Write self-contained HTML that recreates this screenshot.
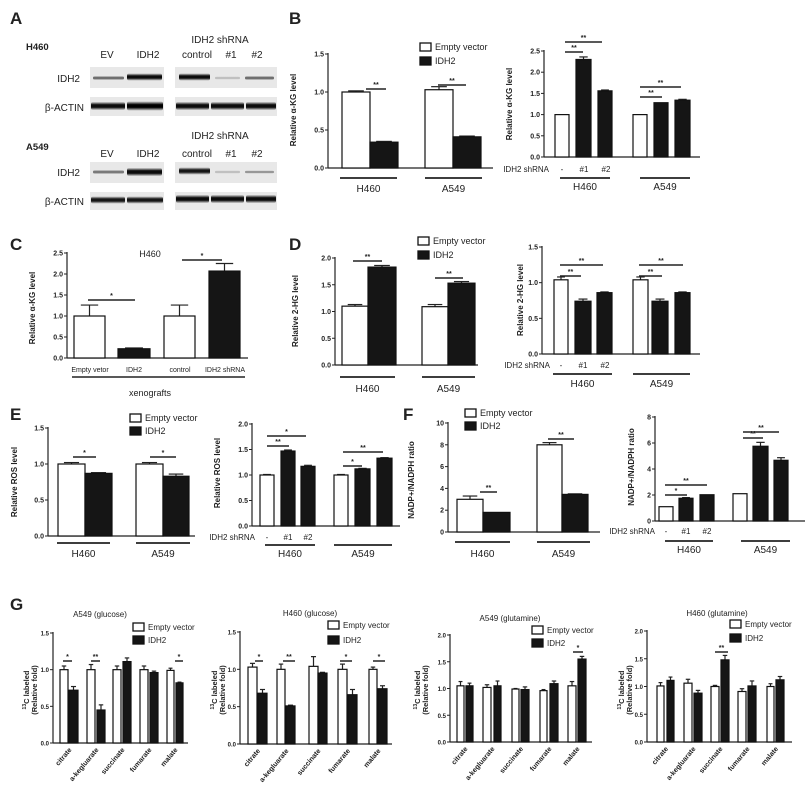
<!DOCTYPE html>
<html><head><meta charset="utf-8">
<style>
html,body{margin:0;padding:0;background:#fff;}
svg{display:block;font-family:"Liberation Sans",Arial,sans-serif;}
</style></head>
<body>
<svg id="s" width="805" height="799" viewBox="0 0 805 799" xmlns="http://www.w3.org/2000/svg">
<defs>
<linearGradient id="bg" x1="0" y1="0" x2="0" y2="1">
<stop offset="0" stop-color="#000" stop-opacity="0.1"/>
<stop offset="0.35" stop-color="#000" stop-opacity="1"/>
<stop offset="0.65" stop-color="#000" stop-opacity="1"/>
<stop offset="1" stop-color="#000" stop-opacity="0.1"/>
</linearGradient>
</defs>
<g id="root"></g>
</svg>
<script>
var o='';
function T(x,y,t,sz,opt){opt=opt||{};o+='<text x="'+x+'" y="'+y+'" font-size="'+sz+'"'+(opt.a?' text-anchor="'+opt.a+'"':'')+(opt.b?' font-weight="bold"':'')+(opt.r?' transform="rotate('+opt.r+' '+x+' '+y+')"':'')+' fill="#222">'+t+'</text>';}
function L(x1,y1,x2,y2,w){o+='<line x1="'+x1+'" y1="'+y1+'" x2="'+x2+'" y2="'+y2+'" stroke="#222" stroke-width="'+(w||1.2)+'"/>';}
function R(x,y,w,h,f,sw){o+='<rect x="'+x+'" y="'+y+'" width="'+w+'" height="'+h+'" fill="'+f+'" stroke="#111" stroke-width="'+(sw||1.2)+'"/>';}
function chart(c){
  var sc=(c.y0-c.yT)/c.max;
  var fs=c.fs||7;
  L(c.ax,c.yT-1,c.ax,c.y0);
  L(c.ax,c.y0,c.xEnd,c.y0);
  for(var v=0;v<=c.max+1e-9;v+=c.step){
    var y=c.y0-v*sc; L(c.ax-3,y,c.ax,y,1);
    T(c.ax-4,y+2.5,v.toFixed(c.dec),fs,{a:'end',b:1});
  }
  c.bars.forEach(function(b){
    var top=c.y0-b[2]*sc, cx=(b[0]+b[1])/2, e=(b[4]||0)*sc, cw=(b[1]-b[0])*0.28;
    if(e>0.5){L(cx,top,cx,top-e,1.2);L(cx-cw,top-e,cx+cw,top-e,1.2);}
    R(b[0],top,b[1]-b[0],b[2]*sc,b[3]?'#151515':'#fff');
  });
  (c.sig||[]).forEach(function(s){L(s[0],s[2],s[1],s[2],1.5);T((s[0]+s[1])/2,s[2]-2,s[3],7,{a:'middle',b:1});});
  if(c.yl){T(c.ylx,c.yly,c.yl,c.ylfs||8,{a:'middle',b:1,r:-90});}
}
function grp(x1,x2,y,t,ty,fs){L(x1,y,x2,y,1.8);T((x1+x2)/2,ty,t,fs||10,{a:'middle'});}
function leg(x,y1,y2,fs){R(x,y1-4,11,8,'#fff',1.3);R(x,y2-4,11,8,'#151515',1.3);T(x+15,y1+3,'Empty vector',fs||9);T(x+15,y2+3,'IDH2',fs||9);}
function shr(xe,y,xs,fs){T(xe,y,'IDH2 shRNA',fs||8,{a:'end'});T(xs[0],y,'-',fs||8,{a:'middle'});T(xs[1],y,'#1',fs||8,{a:'middle'});T(xs[2],y,'#2',fs||8,{a:'middle'});}
function big(x,y,t){T(x,y,t,17,{b:1});}

/* ---------- A : blots ---------- */
big(10,24,'A');
T(26,50,'H460',9.5,{b:1});T(107,58,'EV',10,{a:'middle'});T(148,58,'IDH2',10,{a:'middle'});
T(220,43,'IDH2 shRNA',10,{a:'middle'});T(197,58,'control',10,{a:'middle'});T(231,58,'#1',10,{a:'middle'});T(257,58,'#2',10,{a:'middle'});
T(80,82,'IDH2',10,{a:'end'});T(84,111,'β-ACTIN',10,{a:'end'});
T(26,150,'A549',9.5,{b:1});T(107,157,'EV',10,{a:'middle'});T(148,157,'IDH2',10,{a:'middle'});
T(220,139,'IDH2 shRNA',10,{a:'middle'});T(197,157,'control',10,{a:'middle'});T(231,157,'#1',10,{a:'middle'});T(257,157,'#2',10,{a:'middle'});
T(80,176,'IDH2',10,{a:'end'});T(84,205,'β-ACTIN',10,{a:'end'});
function blot(x,y,w,h,bands){o+='<rect x="'+x+'" y="'+y+'" width="'+w+'" height="'+h+'" fill="#e8e8e8"/>';
 bands.forEach(function(b){o+='<rect x="'+b[0]+'" y="'+(b[2]-b[3]/2)+'" width="'+(b[1]-b[0])+'" height="'+b[3]+'" rx="2" fill="url(#bg)" opacity="'+b[4]+'"/>';});}
blot(90,67,74,21,[[93,124,78,4,0.55],[127,162,77,7,0.95]]);
blot(175,67,102,21,[[179,210,77,7,0.95],[215,240,78,3,0.2],[245,274,78,4,0.55]]);
blot(90,97,74,19,[[91,125,106,8,0.95],[127,163,106,9,1]]);
blot(175,97,102,19,[[176,209,106,8,0.95],[211,244,106,8,0.95],[246,276,106,8,0.95]]);
blot(90,162,74,21,[[93,124,172,4,0.5],[127,162,172,8,0.95]]);
blot(175,162,102,21,[[179,210,171,7,0.9],[215,240,172,3,0.2],[245,274,172,3,0.4]]);
blot(90,192,74,18,[[91,125,200,7,0.9],[127,163,200,7,0.9]]);
blot(175,192,102,18,[[176,209,199,8,0.95],[211,244,199,8,0.95],[246,276,199,8,0.95]]);

/* ---------- B ---------- */
big(289,24,'B');
chart({ax:328,y0:168,yT:54,max:1.5,step:0.5,dec:1,xEnd:493,
 bars:[[342,370,1.0,0,0.015],[370,398,0.34,1,0.01],[425,453,1.03,0,0.04],[453,481,0.41,1,0.01]],
 sig:[[366,386,89,'**'],[438,466,85,'**']],yl:'Relative α-KG level',ylx:296,yly:110});
grp(340,397,178,'H460',192);grp(425,482,178,'A549',192);
leg(420,47,61);
chart({ax:544,y0:157,yT:51,max:2.5,step:0.5,dec:1,xEnd:700,
 bars:[[555,569,1.0,0,0.01],[576,591,2.3,1,0.06],[598,612,1.56,1,0.02],[633,647,1.0,0,0.01],[654,668,1.28,1,0.01],[675,690,1.34,1,0.02]],
 sig:[[565,583,52,'**'],[565,602,42,'**'],[640,662,97,'**'],[640,681,87,'**']],yl:'Relative α-KG level',ylx:512,yly:104});
shr(549,172,[562,584,606]);grp(560,610,178,'H460',190);grp(640,690,178,'A549',190);

/* ---------- C ---------- */
big(10,250,'C');
chart({ax:67,y0:358,yT:253,max:2.5,step:0.5,dec:1,xEnd:248,
 bars:[[74,105,1.0,0,0.26],[118,150,0.22,1,0.02],[164,195,1.0,0,0.26],[209,240,2.07,1,0.18]],
 sig:[[88,135,300,'*'],[182,222,260,'*']],yl:'Relative α-KG level',ylx:35,yly:308});
T(150,257,'H460',9,{a:'middle'});
T(90,372,'Empty vetor',7,{a:'middle'});T(134,372,'IDH2',7,{a:'middle'});T(180,372,'control',7,{a:'middle'});T(225,372,'IDH2 shRNA',7,{a:'middle'});
L(72,377,245,377,1.5);T(150,396,'xenografts',9,{a:'middle'});

/* ---------- D ---------- */
big(289,250,'D');
chart({ax:335,y0:365,yT:258,max:2.0,step:0.5,dec:1,xEnd:478,
 bars:[[342,368,1.1,0,0.03],[368,396,1.83,1,0.03],[422,448,1.09,0,0.04],[448,475,1.53,1,0.03]],
 sig:[[353,382,261,'**'],[435,463,278,'**']],yl:'Relative 2-HG level',ylx:298,yly:311});
grp(340,395,377,'H460',392);grp(422,475,377,'A549',392);
leg(418,241,255);
chart({ax:542,y0:354,yT:247,max:1.5,step:0.5,dec:1,xEnd:700,
 bars:[[554,568,1.04,0,0.04],[575,591,0.74,1,0.03],[597,612,0.86,1,0.01],[633,648,1.04,0,0.04],[652,668,0.74,1,0.03],[675,690,0.86,1,0.01]],
 sig:[[560,581,276,'**'],[560,603,265,'**'],[639,662,276,'**'],[639,683,265,'**']],yl:'Relative 2-HG level',ylx:523,yly:300});
shr(550,368,[561,583,605]);grp(553,612,374,'H460',387);grp(633,690,374,'A549',387);

/* ---------- E ---------- */
big(10,420,'E');
chart({ax:48,y0:536,yT:428,max:1.5,step:0.5,dec:1,xEnd:195,
 bars:[[58,85,1.0,0,0.02],[85,112,0.87,1,0.01],[136,163,1.0,0,0.02],[163,189,0.83,1,0.03]],
 sig:[[73,96,457,'*'],[150,176,457,'*']],yl:'Relative ROS level',ylx:17,yly:482});
grp(57,110,543,'H460',557);grp(136,190,543,'A549',557);
leg(130,418,431);
chart({ax:252,y0:526,yT:424,max:2.0,step:0.5,dec:1,xEnd:400,
 bars:[[260,274,1.0,0,0.01],[281,295,1.47,1,0.02],[301,315,1.17,1,0.02],[334,348,1.0,0,0.01],[355,370,1.12,1,0.01],[377,392,1.33,1,0.01]],
 sig:[[267,289,446,'**'],[267,306,436,'*'],[343,362,466,'*'],[343,383,452,'**']],yl:'Relative ROS level',ylx:220,yly:473});
shr(255,540,[267,288,308]);grp(265,315,545,'H460',557);grp(334,392,545,'A549',557);

/* ---------- F ---------- */
big(403,420,'F');
chart({ax:448,y0:532,yT:423,max:10,step:2,dec:0,xEnd:600,
 bars:[[457,483,3.0,0,0.3],[483,510,1.8,1,0.02],[537,562,8.0,0,0.2],[562,588,3.45,1,0.05]],
 sig:[[480,497,492,'**'],[548,574,439,'**']],yl:'NADP+/NADPH ratio',ylx:414,yly:480});
grp(455,510,542,'H460',557);grp(537,590,542,'A549',557);
leg(465,413,426);
chart({ax:655,y0:521,yT:417,max:8,step:2,dec:0,xEnd:805,
 bars:[[659,673,1.1,0,0.03],[679,693,1.75,1,0.05],[700,714,2.02,1,0.03],[733,747,2.1,0,0.03],[753,768,5.75,1,0.3],[774,788,4.67,1,0.2]],
 sig:[[665,687,495,'*'],[665,707,485,'**'],[743,763,438,'**'],[743,779,432,'**']],yl:'NADP+/NADPH ratio',ylx:634,yly:467});
shr(655,534,[666,686,707]);grp(665,713,541,'H460',553);grp(741,790,541,'A549',553);

/* ---------- G ---------- */
big(10,610,'G');
var mets=['citrate','a-kegluarate','succinate','fumarate','malate'];
function gch(c){
  chart({ax:c.ax,y0:c.y0,yT:c.yT,max:c.max,step:0.5,dec:1,xEnd:c.xEnd,fs:6,bars:c.bars,sig:c.sig});
  for(var i=0;i<5;i++){var b1=c.bars[2*i],b2=c.bars[2*i+1];var cx=(b1[0]+b2[1])/2;T(cx+3,c.y0+7,mets[i],7,{a:'end',b:1,r:-50});}
  T(c.tx,c.ty,c.title,8,{a:'middle'});
  T(c.l1,c.ly,'<tspan font-size="5" dy="-3">13</tspan><tspan dy="3">C labeled</tspan>',7.5,{a:'middle',b:1,r:-90});
  T(c.l2,c.ly,'(Relative fold)',7.5,{a:'middle',b:1,r:-90});
  leg(c.lgx,c.lgy1,c.lgy2,8);
}
gch({ax:53,y0:743,yT:633,max:1.5,xEnd:188,
 bars:[[60,68,1.0,0,0.05],[69,78,0.72,1,0.05],[87,95,1.0,0,0.07],[97,105,0.45,1,0.07],[113,121,1.0,0,0.05],[123,131,1.11,1,0.05],[140,148,1.0,0,0.05],[150,158,0.96,1,0.02],[167,174,0.99,0,0.03],[176,183,0.82,1,0.01]],
 sig:[[63,72,661,'*'],[91,100,661,'**'],[175,183,661,'*']],tx:100,ty:617,title:'A549 (glucose)',l1:29,l2:37,ly:690,lgx:133,lgy1:627,lgy2:640});
gch({ax:240,y0:744,yT:632,max:1.5,xEnd:392,
 bars:[[248,257,1.03,0,0.05],[258,267,0.68,1,0.05],[277,285,1.0,0,0.07],[286,295,0.51,1,0.01],[309,318,1.04,0,0.13],[318,327,0.95,1,0.01],[338,347,1.0,0,0.07],[348,357,0.66,1,0.07],[369,377,1.0,0,0.03],[378,387,0.74,1,0.04]],
 sig:[[255,263,661,'*'],[283,295,661,'**'],[340,352,661,'*'],[373,385,661,'*']],tx:310,ty:616,title:'H460 (glucose)',l1:217,l2:225,ly:690,lgx:328,lgy1:625,lgy2:640});
gch({ax:450,y0:742,yT:635,max:2.0,xEnd:592,
 bars:[[457,464,1.05,0,0.08],[466,473,1.05,1,0.05],[483,491,1.02,0,0.05],[494,501,1.05,1,0.09],[512,519,0.99,0,0.01],[521,529,0.98,1,0.05],[540,547,0.96,0,0.02],[550,558,1.09,1,0.05],[568,576,1.05,0,0.08],[578,586,1.55,1,0.05]],
 sig:[[573,583,652,'*']],tx:510,ty:621,title:'A549 (glutamine)',l1:420,l2:428,ly:690,lgx:532,lgy1:630,lgy2:643});
gch({ax:647,y0:742,yT:631,max:2.0,xEnd:792,
 bars:[[657,664,1.01,0,0.06],[667,674,1.11,1,0.06],[684,692,1.06,0,0.07],[694,702,0.88,1,0.05],[711,719,1.0,0,0.02],[721,729,1.48,1,0.08],[738,746,0.91,0,0.05],[748,756,1.01,1,0.09],[767,774,1.0,0,0.05],[776,784,1.12,1,0.06]],
 sig:[[715,728,652,'**']],tx:717,ty:616,title:'H460 (glutamine)',l1:624,l2:632,ly:690,lgx:730,lgy1:624,lgy2:638});

document.getElementById('root').innerHTML=o;
</script>
</body></html>
